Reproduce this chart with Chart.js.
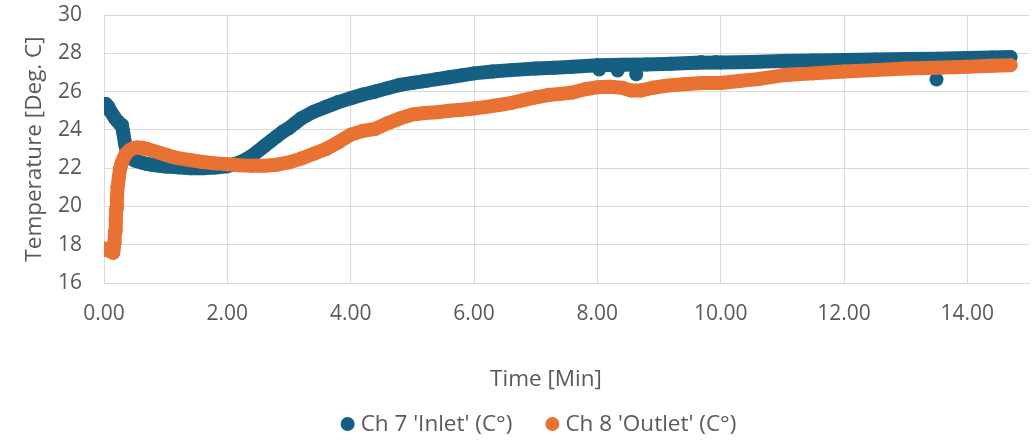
<!DOCTYPE html>
<html>
<head>
<meta charset="utf-8">
<title>Inlet / Outlet temperature</title>
<script src="https://cdn.jsdelivr.net/npm/chart.js@4.4.1/dist/chart.umd.min.js"></script>
<style>
  html, body { margin: 0; padding: 0; background: #ffffff; }
  #wrap { width: 1036px; height: 440px; position: relative; }
</style>
</head>
<body>
<div id="wrap"><canvas id="chart" width="1036" height="440"></canvas></div>
<script>
// Ch 7 'Inlet' readings (time in minutes, temperature in deg C)
const inletTime = [0, 0.03, 0.07, 0.1, 0.14, 0.18, 0.22, 0.26, 0.29, 0.31, 0.34, 0.37, 0.4, 0.45, 0.5,
  0.6, 0.7, 0.8, 0.9, 1.0, 1.2, 1.4, 1.6, 1.8, 2.0, 2.1, 2.2, 2.3, 2.4, 2.5, 2.6, 2.7, 2.8, 2.9, 3.0,
  3.1, 3.2, 3.4, 3.6, 3.8, 4.0, 4.2, 4.4, 4.6, 4.8, 5.0, 5.2, 5.4, 5.6, 5.8, 6.0, 6.3, 6.6, 7.0, 7.3,
  7.6, 8.0, 8.4, 8.8, 9.2, 9.6, 10.0, 10.5, 11.0, 11.5, 12.0, 12.5, 13.0, 13.5, 14.0, 14.4, 14.7];
const inletTemp = [25.35, 25.35, 25.2, 25.0, 24.8, 24.6, 24.45, 24.3, 24.25, 23.9, 23.3, 22.85, 22.6, 22.5, 22.4,
  22.3, 22.22, 22.16, 22.12, 22.08, 22.04, 22.0, 22.0, 22.03, 22.1, 22.2, 22.3, 22.45, 22.65, 22.9, 23.15, 23.4, 23.65, 23.9, 24.1,
  24.35, 24.6, 24.95, 25.2, 25.45, 25.65, 25.85, 26.0, 26.18, 26.35, 26.45, 26.55, 26.65, 26.75, 26.85, 26.95, 27.05, 27.12, 27.2, 27.25,
  27.3, 27.38, 27.4, 27.42, 27.45, 27.5, 27.52, 27.55, 27.6, 27.62, 27.65, 27.68, 27.7, 27.72, 27.75, 27.78, 27.8];

// Stray inlet samples that sit off the main trace
const inletStrayTime = [8.03, 8.33, 8.63, 9.68, 9.92, 13.5];
const inletStrayTemp = [27.15, 27.1, 26.9, 27.55, 27.55, 26.63];

// Ch 8 'Outlet' readings
const outletTime = [0, 0.05, 0.1, 0.15, 0.17, 0.18, 0.19, 0.2, 0.21, 0.22, 0.24, 0.26, 0.29, 0.33, 0.37,
  0.42, 0.48, 0.55, 0.62, 0.7, 0.8, 0.9, 1.0, 1.1, 1.2, 1.4, 1.6, 1.8, 2.0, 2.2, 2.4, 2.6, 2.8, 3.0,
  3.2, 3.4, 3.6, 3.8, 4.0, 4.2, 4.4, 4.6, 4.8, 5.0, 5.2, 5.4, 5.6, 5.8, 6.0, 6.2, 6.4, 6.6, 6.8, 7.0,
  7.2, 7.4, 7.6, 7.8, 8.0, 8.2, 8.4, 8.55, 8.7, 8.9, 9.1, 9.4, 9.7, 10.0, 10.3, 10.6, 11.0, 11.5, 12.0,
  12.5, 13.0, 13.5, 14.0, 14.4, 14.7];
const outletTemp = [17.8, 17.72, 17.65, 17.58, 18.1, 18.7, 19.3, 19.9, 20.5, 21.0, 21.5, 21.95, 22.3, 22.6, 22.8,
  22.95, 23.05, 23.08, 23.07, 23.0, 22.9, 22.8, 22.7, 22.6, 22.52, 22.42, 22.32, 22.25, 22.2, 22.15, 22.13, 22.13, 22.18, 22.3,
  22.5, 22.75, 23.0, 23.35, 23.75, 23.95, 24.05, 24.35, 24.6, 24.8, 24.88, 24.92, 25.0, 25.05, 25.12, 25.2, 25.3, 25.4, 25.55, 25.7,
  25.82, 25.88, 25.95, 26.12, 26.22, 26.25, 26.2, 26.05, 26.05, 26.2, 26.3, 26.38, 26.45, 26.45, 26.55, 26.65, 26.85, 26.95, 27.05,
  27.12, 27.2, 27.25, 27.3, 27.35, 27.38];

// Axis settings
const xMin = 0, xMax = 15, xStep = 2;
const yMin = 16, yMax = 30, yStep = 2;
const xTitle = 'Time [Min]';
const yTitle = 'Temperature [Deg. C]';

const BLUE = '#156082';
const ORANGE = '#E97132';
const TEXT = '#595959';
const GRID = '#d9d9d9';
const FONT = "'Open Sans', 'Liberation Sans', sans-serif";

const pairs = (xs, ys) => xs.map((x, i) => ({ x, y: ys[i] }));

const traceStyle = color => ({
  borderColor: color,
  backgroundColor: color,
  borderWidth: 14,
  borderJoinStyle: 'round',
  borderCapStyle: 'round',
  pointRadius: 7,
  pointHoverRadius: 7,
  pointBorderWidth: 0,
  pointBackgroundColor: color,
  tension: 0,
  showLine: true
});

// Draws the x-axis title and a centred legend under the plot
const bottomText = {
  id: 'bottomText',
  afterDraw(chart) {
    const ctx = chart.ctx;
    ctx.save();
    ctx.fillStyle = TEXT;
    ctx.textBaseline = 'middle';
    ctx.font = `22.5px ${FONT}`;
    ctx.textAlign = 'center';
    ctx.fillText(xTitle, 546, 380);

    const items = chart.data.datasets.filter(d => d.inLegend);
    ctx.font = `22.5px ${FONT}`;
    ctx.textAlign = 'left';
    const dotR = 7, dotGap = 6, itemGap = 33;
    const widths = items.map(d => 2 * dotR + dotGap + ctx.measureText(d.label).width);
    const total = widths.reduce((a, b) => a + b, 0) + itemGap * (items.length - 1);
    let x = 538.5 - total / 2;
    const y = 424;
    items.forEach((d, i) => {
      ctx.beginPath();
      ctx.fillStyle = d.borderColor;
      ctx.arc(x + dotR, y, dotR, 0, Math.PI * 2);
      ctx.fill();
      ctx.fillStyle = TEXT;
      ctx.fillText(d.label, x + 2 * dotR + dotGap, y + 1);
      x += widths[i] + itemGap;
    });
    ctx.restore();
  }
};

new Chart(document.getElementById('chart'), {
  type: 'scatter',
  data: {
    datasets: [
      Object.assign({ label: "Ch 7 'Inlet' (C°)", data: pairs(inletTime, inletTemp), order: 1, inLegend: true }, traceStyle(BLUE)),
      Object.assign({ label: "Ch 8 'Outlet' (C°)", data: pairs(outletTime, outletTemp), order: 0, inLegend: true }, traceStyle(ORANGE)),
      Object.assign({ label: 'inlet-stray', data: pairs(inletStrayTime, inletStrayTemp), order: 2, inLegend: false }, traceStyle(BLUE), { showLine: false })
    ]
  },
  options: {
    responsive: false,
    animation: false,
    layout: { padding: { top: 15, right: 6, bottom: 0, left: 0 } },
    plugins: {
      legend: { display: false },
      tooltip: { enabled: false }
    },
    scales: {
      x: {
        type: 'linear',
        min: xMin, max: xMax,
        afterFit: s => { s.height = 157; s.paddingLeft = 0; s.paddingRight = 0; },
        grid: { color: GRID, lineWidth: 1, drawTicks: false },
        border: { color: GRID, width: 1 },
        ticks: {
          stepSize: xStep,
          includeBounds: false,
          padding: 18,
          color: TEXT,
          font: { family: FONT, size: 21 },
          maxRotation: 0,
          callback: v => Number(v).toFixed(2)
        }
      },
      y: {
        min: yMin, max: yMax,
        afterFit: s => { s.width = 104; s.paddingTop = 0; s.paddingBottom = 0; },
        grid: { color: GRID, lineWidth: 1, drawTicks: false },
        border: { color: GRID, width: 1 },
        ticks: {
          stepSize: yStep,
          padding: 22,
          color: TEXT,
          font: { family: FONT, size: 21 }
        },
        title: {
          display: true,
          text: yTitle,
          color: TEXT,
          font: { family: FONT, size: 22.5 },
          padding: { top: 21.5, bottom: 0 }
        }
      }
    }
  },
  plugins: [bottomText]
});
</script>
</body>
</html>
